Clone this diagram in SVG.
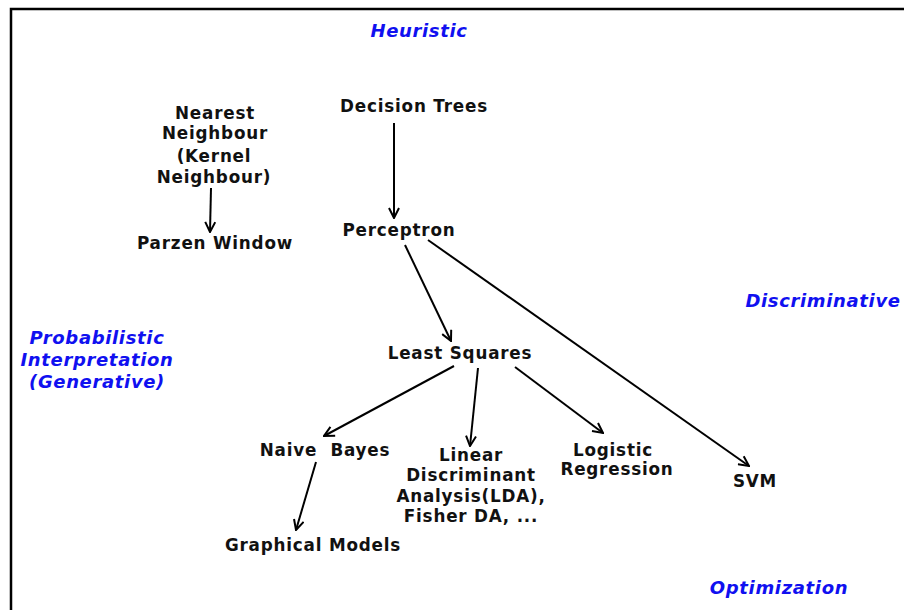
<svg xmlns="http://www.w3.org/2000/svg" width="904" height="610" viewBox="0 0 904 610">
<defs>
<marker id="ah" viewBox="0 0 12 12" refX="11" refY="6" markerWidth="12" markerHeight="12" markerUnits="userSpaceOnUse" orient="auto">
<path d="M1,1 L11,6 L1,11" fill="none" stroke="#000" stroke-width="2"/>
</marker>
</defs>
<style>
.n{font-family:"DejaVu Sans",sans-serif;font-weight:bold;font-size:16.8px;fill:#111;text-anchor:middle;letter-spacing:0.8px}
.b{font-family:"DejaVu Sans",sans-serif;font-weight:bold;font-style:oblique;font-size:18px;fill:#1010f0;text-anchor:middle;letter-spacing:0.65px}
.c line{stroke:#000;stroke-width:2;marker-end:url(#ah)}
</style>
<rect width="904" height="610" fill="#fff"/>
<path d="M11,610 L11,9 L904,9" fill="none" stroke="#000" stroke-width="2.5"/>
<g id="labels">
<text class="b" x="419" y="37">Heuristic</text>
<text class="b" x="823" y="307">Discriminative</text>
<text class="b" x="97" y="344">Probabilistic</text>
<text class="b" x="97" y="366">Interpretation</text>
<text class="b" x="97" y="388">(Generative)</text>
<text class="b" x="779" y="594">Optimization</text>
</g>
<g id="nn"><text class="n" x="215" y="119">Nearest</text><text class="n" x="215" y="139">Neighbour</text><text class="n" x="214" y="162">(Kernel</text><text class="n" x="214" y="183">Neighbour)</text></g>
<g id="parzen"><text class="n" x="215" y="249">Parzen Window</text></g>
<g id="dt"><text class="n" x="414" y="112">Decision Trees</text></g>
<g id="perceptron"><text class="n" x="399" y="236">Perceptron</text></g>
<g id="ls"><text class="n" x="460" y="359">Least Squares</text></g>
<g id="nb"><text class="n" x="325" y="456" xml:space="preserve">Naive  Bayes</text></g>
<g id="lda"><text class="n" x="471" y="461">Linear</text><text class="n" x="471" y="481">Discriminant</text><text class="n" x="471" y="502">Analysis(LDA),</text><text class="n" x="471" y="522">Fisher DA, ...</text></g>
<g id="lr"><text class="n" x="613" y="456">Logistic</text><text class="n" x="617" y="475">Regression</text></g>
<g id="svm"><text class="n" x="755" y="487">SVM</text></g>
<g id="gm"><text class="n" x="313" y="551">Graphical Models</text></g>
<g id="connectors" class="c">
<line x1="211" y1="188" x2="210" y2="232"/>
<line x1="394" y1="123" x2="394" y2="218"/>
<line x1="405" y1="245" x2="451" y2="341"/>
<line x1="428" y1="240" x2="749" y2="466"/>
<line x1="454" y1="366" x2="324" y2="436"/>
<line x1="478" y1="368" x2="470" y2="446"/>
<line x1="515" y1="367" x2="603" y2="433"/>
<line x1="316" y1="462" x2="296" y2="530"/>
</g>
</svg>
